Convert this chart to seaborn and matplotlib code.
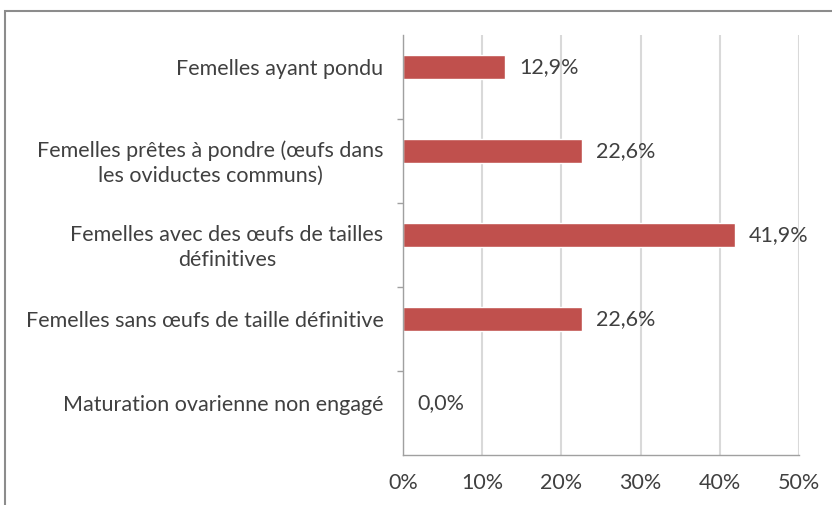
import matplotlib
matplotlib.use("Agg")
import matplotlib.pyplot as plt
import matplotlib.patches as mpatches
from matplotlib.transforms import ScaledTranslation
import seaborn as sns
import pandas as pd
import numpy as np

categories = [
    "Femelles ayant pondu",
    "Femelles prêtes à pondre (œufs dans\nles oviductes communs)",
    "Femelles avec des œufs de tailles\ndéfinitives",
    "Femelles sans œufs de taille définitive",
    "Maturation ovarienne non engagé",
]
values = [12.9, 22.6, 41.9, 22.6, 0.0]
value_labels = ["12,9%", "22,6%", "41,9%", "22,6%", "0,0%"]
x_ticks = [0, 10, 20, 30, 40, 50]
x_ticklabels = ["0%", "10%", "20%", "30%", "40%", "50%"]

sns.set_theme(style="white")
plt.rcParams["font.family"] = ["Lato", "DejaVu Sans"]

W, H = 832, 505
fig = plt.figure(figsize=(W / 100, H / 100), dpi=100)
ax = fig.add_axes([403 / W, 1 - 455 / H, (799 - 403) / W, (455 - 35) / H])

df = pd.DataFrame({"cat": categories, "val": values})
sns.barplot(data=df, x="val", y="cat", orient="h", color="#C0504D",
            saturation=1, width=0.28, ax=ax)

txt = "#404040"
fs = 15.5
ax.set_xlim(0, 50)
ax.set_ylim(4.619, -0.381)
ax.set_xticks(x_ticks)
ax.set_xticklabels(x_ticklabels, fontsize=fs, color=txt)
ax.set_yticks(range(len(categories)))
ax.set_yticklabels(categories, fontsize=fs, color=txt, multialignment="center",
                   linespacing=1.3)
ax.tick_params(axis="y", length=0, pad=14)
ax.tick_params(axis="x", length=4, width=1, color="#a0a0a0", pad=9, direction="out")
ax.set_yticks([0.619, 1.619, 2.619, 3.619], minor=True)
ax.tick_params(axis="y", which="minor", length=4, width=1, color="#a0a0a0", direction="out", left=True)
ax.set_xlabel("")
ax.set_ylabel("")

# two-line labels sit slightly lower than their bars in the reference
for lab in ax.get_yticklabels():
    if "\n" in lab.get_text():
        lab.set_transform(lab.get_transform() + ScaledTranslation(0, -0.08, fig.dpi_scale_trans))

ax.grid(axis="x", color="#d9d9d9", linewidth=1.5)
ax.set_axisbelow(True)
for s in ["top", "right"]:
    ax.spines[s].set_visible(False)
for s in ["left", "bottom"]:
    ax.spines[s].set_color("#a0a0a0")
    ax.spines[s].set_linewidth(1)

for i, (v, lab) in enumerate(zip(values, value_labels)):
    ax.annotate(lab, xy=(v, i), xytext=(10, 0), textcoords="offset points",
                va="center", ha="left", fontsize=fs, color=txt)

border = mpatches.Rectangle((5 / W, -0.1), 1.2, 1 - 11 / H + 0.1, transform=fig.transFigure,
                            fill=False, edgecolor="#8c8c8c", linewidth=1.5, clip_on=False)
fig.patches.append(border)

fig.savefig("out.png", dpi=100)
